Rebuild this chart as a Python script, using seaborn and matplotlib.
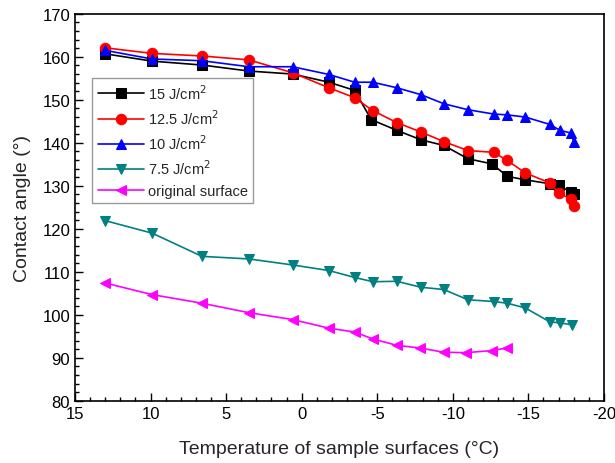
import matplotlib
matplotlib.use("Agg")
import matplotlib.pyplot as plt
import seaborn as sns
import pandas as pd
from matplotlib.ticker import MultipleLocator

sns.set_theme(style="white")
plt.rcParams['font.family'] = ['Liberation Sans', 'DejaVu Sans']

t15 = [13.0, 9.9, 6.6, 3.5, 0.6, -1.8, -3.5, -4.6, -6.3, -7.9, -9.4, -11.0, -12.6, -13.6, -14.8, -16.4, -17.0, -17.8, -18.0]
v15 = [160.7, 159.0, 158.1, 156.7, 156.0, 154.1, 152.2, 145.4, 142.9, 140.7, 139.4, 136.3, 135.1, 132.2, 131.4, 130.5, 130.2, 128.5, 128.0]

t125 = [13.0, 9.9, 6.6, 3.5, 0.6, -1.8, -3.5, -4.7, -6.3, -7.9, -9.4, -11.0, -12.7, -13.6, -14.8, -16.4, -17.0, -17.8, -18.0]
v125 = [162.1, 160.8, 160.2, 159.3, 156.3, 152.8, 150.5, 147.5, 144.7, 142.5, 140.3, 138.2, 137.8, 135.9, 133.0, 130.7, 128.3, 127.0, 125.2]

t10 = [13.0, 9.9, 6.6, 3.5, 0.6, -1.8, -3.5, -4.7, -6.3, -7.9, -9.4, -11.0, -12.7, -13.6, -14.8, -16.4, -17.1, -17.8, -18.0]
v10 = [161.5, 159.5, 159.1, 157.7, 157.7, 155.9, 154.1, 154.1, 152.8, 151.2, 149.1, 147.7, 146.7, 146.5, 146.0, 144.3, 142.9, 142.3, 140.3]

t75 = [13.0, 9.9, 6.6, 3.5, 0.6, -1.8, -3.5, -4.7, -6.3, -7.9, -9.4, -11.0, -12.7, -13.6, -14.8, -16.4, -17.1, -17.9]
v75 = [121.9, 119.0, 113.6, 113.0, 111.6, 110.3, 108.7, 107.7, 107.8, 106.4, 105.9, 103.5, 103.1, 102.7, 101.6, 98.4, 98.1, 97.7]

t0 = [13.0, 9.9, 6.6, 3.5, 0.6, -1.8, -3.5, -4.7, -6.3, -7.8, -9.4, -10.9, -12.6, -13.6]
v0 = [107.4, 104.7, 102.7, 100.5, 98.9, 96.9, 96.0, 94.4, 92.9, 92.3, 91.3, 91.2, 91.7, 92.3]

series = [
    ("15 J/cm$^2$", t15, v15, "black", "s"),
    ("12.5 J/cm$^2$", t125, v125, "#ff0000", "o"),
    ("10 J/cm$^2$", t10, v10, "#0000ff", "^"),
    ("7.5 J/cm$^2$", t75, v75, "#008080", "v"),
    ("original surface", t0, v0, "#ff00ff", "<"),
]

fig = plt.figure(figsize=(6.15, 4.64), dpi=100)
ax = fig.add_axes([0.122, 0.134, 0.860, 0.834])

for label, t, v, color, marker in series:
    df = pd.DataFrame({"T": t, "V": v})
    sns.lineplot(data=df, x="T", y="V", ax=ax, color=color, marker=marker,
                 markersize=7.5, markeredgecolor=color, linewidth=1.2,
                 label=label, sort=False, estimator=None)

ax.set_xlim(15, -20)
ax.set_ylim(80, 170)
ax.xaxis.set_major_locator(MultipleLocator(5))
ax.xaxis.set_minor_locator(MultipleLocator(1))
ax.yaxis.set_major_locator(MultipleLocator(10))
ax.yaxis.set_minor_locator(MultipleLocator(2))
ax.tick_params(which='both', direction='in', top=False, right=False, bottom=True, left=True,
               colors='black', labelsize=12)
ax.tick_params(which='major', length=6, width=1)
ax.tick_params(which='minor', length=3, width=1)
ax.set_xticks([15, 10, 5, 0, -5, -10, -15, -20])
ax.set_xticklabels(["15", "10", "5", "0", "-5", "-10", "-15", "-20"])
for s in ax.spines.values():
    s.set_color('black')
    s.set_linewidth(1.2)

ax.set_xlabel("Temperature of sample surfaces (\u00b0C)", fontsize=14, labelpad=14)
ax.set_ylabel("Contact angle (\u00b0)", fontsize=14, labelpad=8)

leg = ax.legend(loc='upper left', bbox_to_anchor=(0.033, 0.835), fontsize=10.5,
                frameon=True, fancybox=False, edgecolor='#999999', framealpha=1,
                borderpad=0.35, labelspacing=0.45, handlelength=3.2, handletextpad=0.25,
                borderaxespad=0)
leg.get_frame().set_linewidth(1.0)

fig.savefig("out.png", dpi=100)
